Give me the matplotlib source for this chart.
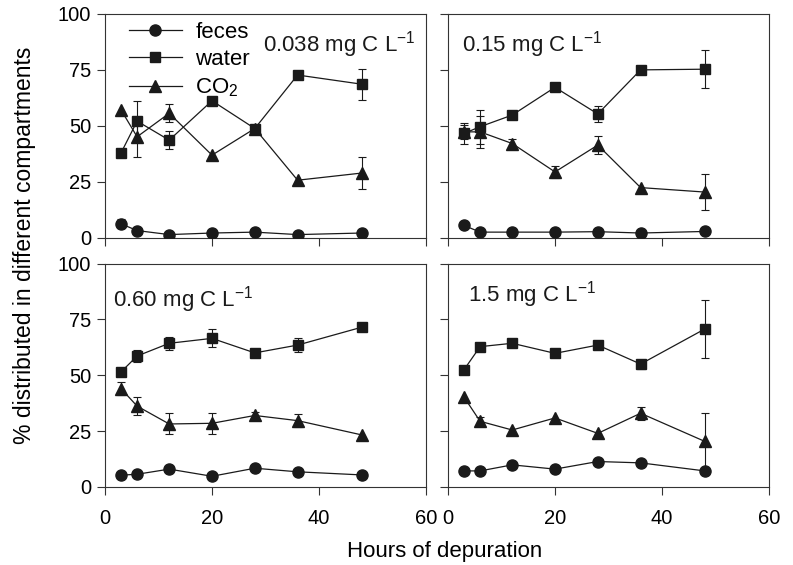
import matplotlib
matplotlib.use("Agg")
import matplotlib.pyplot as plt
import numpy as np

plt.rcParams["font.family"] = ["Liberation Sans", "DejaVu Sans"]
plt.rcParams["mathtext.fontset"] = "custom"
plt.rcParams["mathtext.rm"] = "Liberation Sans"
plt.rcParams["mathtext.it"] = "Liberation Sans:italic"
plt.rcParams["mathtext.default"] = "regular"

hours = [3, 6, 12, 20, 28, 36, 48]
series_names = ["feces", "water", "CO$_2$"]
panel_titles = ["0.038 mg C L$^{-1}$", "0.15 mg C L$^{-1}$",
                "0.60 mg C L$^{-1}$", "1.5 mg C L$^{-1}$"]

# 0.038 mg C/L
feces_a = [6.1, 3.1, 1.3, 2.0, 2.4, 1.3, 2.0]
feces_a_err = [2.0, 0, 0, 0, 0, 0, 0]
water_a = [37.8, 52.0, 43.5, 61.1, 48.7, 72.6, 68.5]
water_a_err = [0, 9.0, 4.0, 0, 0, 0, 7.0]
co2_a = [57.0, 45.0, 55.5, 36.8, 48.7, 25.6, 28.8]
co2_a_err = [0, 9.0, 4.0, 0, 0, 0, 7.0]

# 0.15 mg C/L
feces_b = [5.4, 2.4, 2.4, 2.4, 2.6, 2.0, 2.7]
feces_b_err = [0, 0, 0, 0, 0, 0, 0]
water_b = [46.5, 49.5, 54.7, 67.1, 55.2, 74.9, 75.2]
water_b_err = [4.6, 7.5, 1.5, 1.5, 3.5, 0, 8.5]
co2_b = [47.2, 47.2, 42.0, 29.3, 41.3, 22.3, 20.3]
co2_b_err = [3.0, 7.0, 2.0, 2.5, 3.9, 0, 8.0]

# 0.60 mg C/L
feces_c = [5.3, 5.7, 8.0, 4.8, 8.4, 6.8, 5.4]
feces_c_err = [0, 0, 0, 0, 0, 0, 0]
water_c = [51.5, 58.6, 64.3, 66.5, 60.0, 63.5, 71.5]
water_c_err = [0, 2.5, 3.0, 4.0, 0, 3.0, 1.5]
co2_c = [44.0, 36.2, 28.2, 28.5, 32.0, 29.7, 23.3]
co2_c_err = [2.8, 4.0, 4.7, 4.8, 1.5, 3.0, 0]

# 1.5 mg C/L
feces_d = [7.2, 7.2, 9.9, 8.0, 11.4, 10.8, 7.2]
feces_d_err = [0, 0, 0, 0, 0, 0, 0]
water_d = [52.5, 62.8, 64.3, 59.8, 63.5, 55.0, 70.7]
water_d_err = [0, 0, 0, 0, 0, 2.0, 13.1]
co2_d = [40.2, 29.4, 25.5, 30.9, 24.0, 33.0, 20.4]
co2_d_err = [0, 2.0, 0, 0, 0, 3.0, 12.5]

panels = [
    [(feces_a, feces_a_err), (water_a, water_a_err), (co2_a, co2_a_err)],
    [(feces_b, feces_b_err), (water_b, water_b_err), (co2_b, co2_b_err)],
    [(feces_c, feces_c_err), (water_c, water_c_err), (co2_c, co2_c_err)],
    [(feces_d, feces_d_err), (water_d, water_d_err), (co2_d, co2_d_err)],
]
markers = ["o", "s", "^"]
x_ticks = [0, 20, 40, 60]
y_ticks = [0, 25, 50, 75, 100]

W, H = 793, 565
fig = plt.figure(figsize=(W / 100, H / 100), dpi=100)

def frac(l, t, r, b):
    return [l / W, 1 - b / H, (r - l) / W, (b - t) / H]

rects = [frac(105, 13.7, 426, 237.5), frac(448, 13.7, 769, 237.5),
         frac(105, 263.5, 426, 487), frac(448, 263.5, 769, 487)]
title_pos = [(0.493, 0.86), (0.043, 0.86), (0.026, 0.84), (0.063, 0.86)]

ink = "#1a1a1a"
fs = 14.5
for i, (rect, series) in enumerate(zip(rects, panels)):
    ax = fig.add_axes(rect)
    hx = np.array(hours, dtype=float)
    for (vals, errs), mk, name in zip(series, markers, series_names):
        v = np.array(vals, dtype=float)
        e = np.array(errs, dtype=float)
        ax.plot(hx, v, color=ink, lw=0.9, marker=mk, ms=8 if mk != "s" else 7.5,
                mfc=ink, mec=ink, label=name, zorder=3)
        sel = e > 0
        if sel.any():
            ax.errorbar(hx[sel], v[sel], yerr=e[sel], fmt="none", ecolor=ink,
                        elinewidth=0.8, capsize=3, capthick=0.8, zorder=2)
    ax.set_xlim(0, 60)
    ax.set_ylim(0, 100)
    ax.set_xticks(x_ticks)
    ax.set_yticks(y_ticks)
    ax.tick_params(direction="out", length=6, width=0.8, color="#333333",
                   labelsize=fs, pad=4)
    for sp in ax.spines.values():
        sp.set_linewidth(0.8)
        sp.set_color("#333333")
    if i in (1, 3):
        ax.set_yticklabels([])
    if i in (0, 1):
        ax.set_xticklabels([])
    else:
        ax.tick_params(axis="x", pad=10)
    ax.text(title_pos[i][0], title_pos[i][1], panel_titles[i], transform=ax.transAxes,
            fontsize=fs + 1.5, ha="left", va="center", color=ink)
    if i == 0:
        ax.legend(loc="upper left", bbox_to_anchor=(0.06, 0.985), frameon=False,
                  fontsize=fs + 1.5, handlelength=2.4, handletextpad=0.6,
                  labelspacing=0.3, borderaxespad=0.0, borderpad=0.2)

fig.text(445 / W, 1 - 551 / H, "Hours of depuration", ha="center", va="center",
         fontsize=16)
fig.text(25 / W, 1 - 245 / H, "% distributed in different compartments",
         ha="center", va="center", rotation=90, fontsize=16.5)

fig.savefig("out.png", dpi=100)
